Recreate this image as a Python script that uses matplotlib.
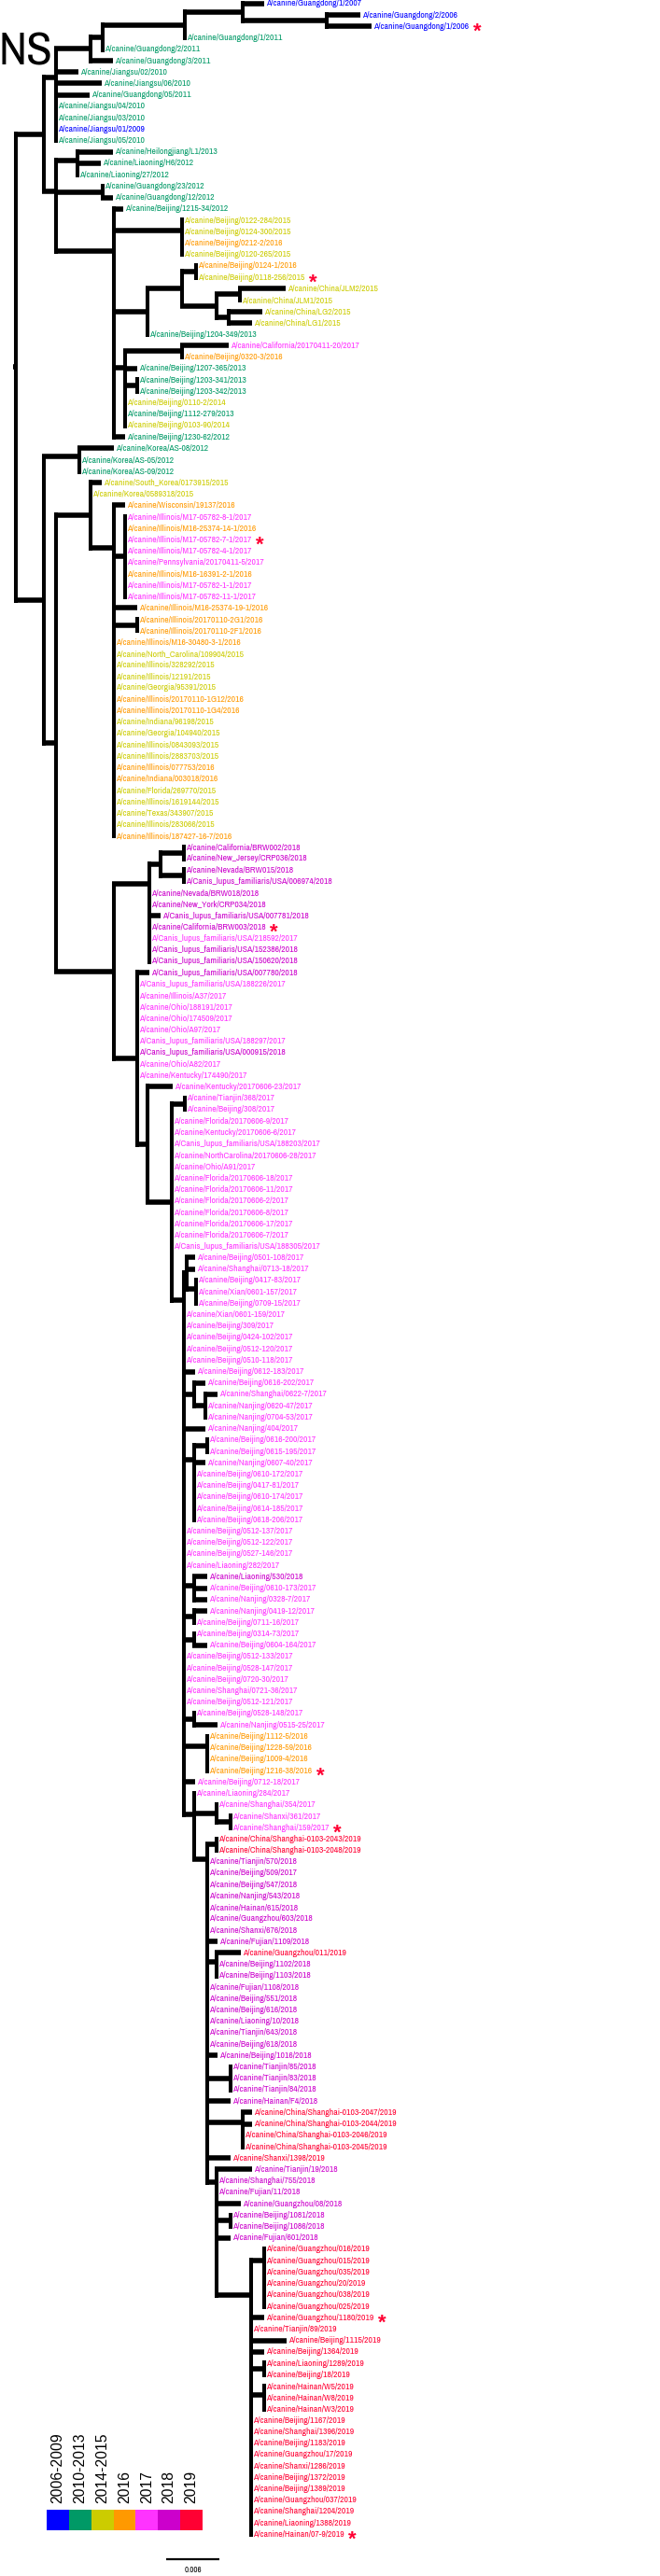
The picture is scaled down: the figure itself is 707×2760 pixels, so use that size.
import matplotlib
matplotlib.use("Agg")
import matplotlib.pyplot as plt
from matplotlib.collections import LineCollection

# ---------------------------------------------------------------- data
STRAINS = [
    "A/canine/Guangdong/1/2007", "A/canine/Guangdong/2/2006", "A/canine/Guangdong/1/2006",
    "A/canine/Guangdong/1/2011", "A/canine/Guangdong/2/2011", "A/canine/Guangdong/3/2011",
    "A/canine/Jiangsu/02/2010", "A/canine/Jiangsu/06/2010", "A/canine/Guangdong/05/2011",
    "A/canine/Jiangsu/04/2010", "A/canine/Jiangsu/03/2010", "A/canine/Jiangsu/01/2009",
    "A/canine/Jiangsu/05/2010", "A/canine/Heilongjiang/L1/2013", "A/canine/Liaoning/H6/2012",
    "A/canine/Liaoning/27/2012", "A/canine/Guangdong/23/2012", "A/canine/Guangdong/12/2012",
    "A/canine/Beijing/1215-34/2012", "A/canine/Beijing/0122-284/2015", "A/canine/Beijing/0124-300/2015",
    "A/canine/Beijing/0212-2/2016", "A/canine/Beijing/0120-265/2015", "A/canine/Beijing/0124-1/2016",
    "A/canine/Beijing/0118-256/2015", "A/canine/China/JLM2/2015", "A/canine/China/JLM1/2015",
    "A/canine/China/LG2/2015", "A/canine/China/LG1/2015", "A/canine/Beijing/1204-349/2013",
    "A/canine/California/20170411-20/2017", "A/canine/Beijing/0320-3/2016", "A/canine/Beijing/1207-365/2013",
    "A/canine/Beijing/1203-341/2013", "A/canine/Beijing/1203-342/2013", "A/canine/Beijing/0110-2/2014",
    "A/canine/Beijing/1112-279/2013", "A/canine/Beijing/0103-90/2014", "A/canine/Beijing/1230-62/2012",
    "A/canine/Korea/AS-08/2012", "A/canine/Korea/AS-05/2012", "A/canine/Korea/AS-09/2012",
    "A/canine/South_Korea/0173915/2015", "A/canine/Korea/0589318/2015", "A/canine/Wisconsin/19137/2016",
    "A/canine/Illinois/M17-05782-8-1/2017", "A/canine/Illinois/M16-25374-14-1/2016",
    "A/canine/Illinois/M17-05782-7-1/2017", "A/canine/Illinois/M17-05782-4-1/2017",
    "A/canine/Pennsylvania/20170411-5/2017", "A/canine/Illinois/M16-16391-2-1/2016",
    "A/canine/Illinois/M17-05782-1-1/2017", "A/canine/Illinois/M17-05782-11-1/2017",
    "A/canine/Illinois/M16-25374-19-1/2016", "A/canine/Illinois/20170110-2G1/2016",
    "A/canine/Illinois/20170110-2F1/2016", "A/canine/Illinois/M16-30480-3-1/2016",
    "A/canine/North_Carolina/109904/2015", "A/canine/Illinois/328292/2015", "A/canine/Illinois/12191/2015",
    "A/canine/Georgia/95391/2015", "A/canine/Illinois/20170110-1G12/2016", "A/canine/Illinois/20170110-1G4/2016",
    "A/canine/Indiana/96198/2015", "A/canine/Georgia/104940/2015", "A/canine/Illinois/0843093/2015",
    "A/canine/Illinois/2883703/2015", "A/canine/Illinois/077753/2016", "A/canine/Indiana/003018/2016",
    "A/canine/Florida/269770/2015", "A/canine/Illinois/1619144/2015", "A/canine/Texas/343907/2015",
    "A/canine/Illinois/283066/2015", "A/canine/Illinois/187427-16-7/2016", "A/canine/California/BRW002/2018",
    "A/canine/New_Jersey/CRP036/2018", "A/canine/Nevada/BRW015/2018", "A/Canis_lupus_familiaris/USA/006974/2018",
    "A/canine/Nevada/BRW018/2018", "A/canine/New_York/CRP034/2018", "A/Canis_lupus_familiaris/USA/007781/2018",
    "A/canine/California/BRW003/2018", "A/Canis_lupus_familiaris/USA/218592/2017",
    "A/Canis_lupus_familiaris/USA/152386/2018", "A/Canis_lupus_familiaris/USA/150620/2018",
    "A/Canis_lupus_familiaris/USA/007780/2018", "A/Canis_lupus_familiaris/USA/188226/2017",
    "A/canine/Illinois/A37/2017", "A/canine/Ohio/188191/2017", "A/canine/Ohio/174509/2017",
    "A/canine/Ohio/A97/2017", "A/Canis_lupus_familiaris/USA/188297/2017",
    "A/Canis_lupus_familiaris/USA/000915/2018", "A/canine/Ohio/A82/2017", "A/canine/Kentucky/174490/2017",
    "A/canine/Kentucky/20170606-23/2017", "A/canine/Tianjin/368/2017", "A/canine/Beijing/308/2017",
    "A/canine/Florida/20170606-9/2017", "A/canine/Kentucky/20170606-6/2017",
    "A/Canis_lupus_familiaris/USA/188203/2017", "A/canine/NorthCarolina/20170606-28/2017",
    "A/canine/Ohio/A91/2017", "A/canine/Florida/20170606-18/2017", "A/canine/Florida/20170606-11/2017",
    "A/canine/Florida/20170606-2/2017", "A/canine/Florida/20170606-8/2017", "A/canine/Florida/20170606-17/2017",
    "A/canine/Florida/20170606-7/2017", "A/Canis_lupus_familiaris/USA/188305/2017",
    "A/canine/Beijing/0501-108/2017", "A/canine/Shanghai/0713-18/2017", "A/canine/Beijing/0417-83/2017",
    "A/canine/Xian/0601-157/2017", "A/canine/Beijing/0709-15/2017", "A/canine/Xian/0601-159/2017",
    "A/canine/Beijing/309/2017", "A/canine/Beijing/0424-102/2017", "A/canine/Beijing/0512-120/2017",
    "A/canine/Beijing/0510-118/2017", "A/canine/Beijing/0612-183/2017", "A/canine/Beijing/0616-202/2017",
    "A/canine/Shanghai/0622-7/2017", "A/canine/Nanjing/0620-47/2017", "A/canine/Nanjing/0704-53/2017",
    "A/canine/Nanjing/404/2017", "A/canine/Beijing/0616-200/2017", "A/canine/Beijing/0615-195/2017",
    "A/canine/Nanjing/0607-40/2017", "A/canine/Beijing/0610-172/2017", "A/canine/Beijing/0417-81/2017",
    "A/canine/Beijing/0610-174/2017", "A/canine/Beijing/0614-185/2017", "A/canine/Beijing/0618-206/2017",
    "A/canine/Beijing/0512-137/2017", "A/canine/Beijing/0512-122/2017", "A/canine/Beijing/0527-146/2017",
    "A/canine/Liaoning/282/2017", "A/canine/Liaoning/530/2018", "A/canine/Beijing/0610-173/2017",
    "A/canine/Nanjing/0328-7/2017", "A/canine/Nanjing/0419-12/2017", "A/canine/Beijing/0711-16/2017",
    "A/canine/Beijing/0314-73/2017", "A/canine/Beijing/0604-164/2017", "A/canine/Beijing/0512-133/2017",
    "A/canine/Beijing/0528-147/2017", "A/canine/Beijing/0720-30/2017", "A/canine/Shanghai/0721-36/2017",
    "A/canine/Beijing/0512-121/2017", "A/canine/Beijing/0528-148/2017", "A/canine/Nanjing/0515-25/2017",
    "A/canine/Beijing/1112-5/2016", "A/canine/Beijing/1228-59/2016", "A/canine/Beijing/1009-4/2016",
    "A/canine/Beijing/1216-38/2016", "A/canine/Beijing/0712-18/2017", "A/canine/Liaoning/284/2017",
    "A/canine/Shanghai/354/2017", "A/canine/Shanxi/361/2017", "A/canine/Shanghai/159/2017",
    "A/canine/China/Shanghai-0103-2043/2019", "A/canine/China/Shanghai-0103-2048/2019",
    "A/canine/Tianjin/570/2018", "A/canine/Beijing/509/2017", "A/canine/Beijing/547/2018",
    "A/canine/Nanjing/543/2018", "A/canine/Hainan/615/2018", "A/canine/Guangzhou/603/2018",
    "A/canine/Shanxi/676/2018", "A/canine/Fujian/1109/2018", "A/canine/Guangzhou/011/2019",
    "A/canine/Beijing/1102/2018", "A/canine/Beijing/1103/2018", "A/canine/Fujian/1108/2018",
    "A/canine/Beijing/551/2018", "A/canine/Beijing/616/2018", "A/canine/Liaoning/10/2018",
    "A/canine/Tianjin/643/2018", "A/canine/Beijing/618/2018", "A/canine/Beijing/1016/2018",
    "A/canine/Tianjin/85/2018", "A/canine/Tianjin/83/2018", "A/canine/Tianjin/84/2018",
    "A/canine/Hainan/F4/2018", "A/canine/China/Shanghai-0103-2047/2019",
    "A/canine/China/Shanghai-0103-2044/2019", "A/canine/China/Shanghai-0103-2046/2019",
    "A/canine/China/Shanghai-0103-2045/2019", "A/canine/Shanxi/1398/2019", "A/canine/Tianjin/19/2018",
    "A/canine/Shanghai/755/2018", "A/canine/Fujian/11/2018", "A/canine/Guangzhou/08/2018",
    "A/canine/Beijing/1081/2018", "A/canine/Beijing/1086/2018", "A/canine/Fujian/601/2018",
    "A/canine/Guangzhou/016/2019", "A/canine/Guangzhou/015/2019", "A/canine/Guangzhou/035/2019",
    "A/canine/Guangzhou/20/2019", "A/canine/Guangzhou/038/2019", "A/canine/Guangzhou/025/2019",
    "A/canine/Guangzhou/1180/2019", "A/canine/Tianjin/89/2019", "A/canine/Beijing/1115/2019",
    "A/canine/Beijing/1364/2019", "A/canine/Liaoning/1289/2019", "A/canine/Beijing/18/2019",
    "A/canine/Hainan/W5/2019", "A/canine/Hainan/W8/2019", "A/canine/Hainan/W3/2019",
    "A/canine/Beijing/1167/2019", "A/canine/Shanghai/1396/2019", "A/canine/Beijing/1183/2019",
    "A/canine/Guangzhou/17/2019", "A/canine/Shanxi/1286/2019", "A/canine/Beijing/1372/2019",
    "A/canine/Beijing/1389/2019", "A/canine/Guangzhou/037/2019", "A/canine/Shanghai/1204/2019",
    "A/canine/Liaoning/1388/2019", "A/canine/Hainan/07-9/2019",
]

# strains marked with a red asterisk
MARKED = [
    "A/canine/Guangdong/1/2006", "A/canine/Beijing/0118-256/2015",
    "A/canine/Illinois/M17-05782-7-1/2017", "A/canine/California/BRW003/2018",
    "A/canine/Beijing/1216-38/2016", "A/canine/Shanghai/159/2017",
    "A/canine/Guangzhou/1180/2019", "A/canine/Hainan/07-9/2019",
]

# colour group where it differs from the year in the strain name
GROUP_OVERRIDE = {"A/canine/Beijing/509/2017": "2018"}

YEAR_GROUPS = ["2006-2009", "2010-2013", "2014-2015", "2016", "2017", "2018", "2019"]
GROUP_COLORS = ["#0000FF", "#009966", "#CCCC00", "#FF9900", "#FF33FF", "#CC00CC", "#FF0033"]

# tree topology, leaves are indices into STRAINS; branch lengths in scale-bar units
# (SCALE_BAR_UNITS of them = SCALE_BAR_VALUE substitutions/site); missing length = 0
SCALE_BAR_VALUE = 0.006
SCALE_BAR_UNITS = 57

CLADE_2006_2011 = "((((0:23,(1:36,2:48):90):62,3):88,4):13,5:24)"
CLADE_JIANGSU = f"({CLADE_2006_2011}:37,(6:24,7:49,8:36,9,10,11,12))"
CLADE_BEIJING = ("(18:10,(19,20,21,22)P1:73,(((23,24):15,((25:49,26):25,(27:36,28:25):13):37):37,29):36,"
                 "((30:50,31):61,32:13,(33,34):13,35,36,37)P3:12,38:12)E")
CLADE_NORTH = f"((13:38,14:25,15)H:23,(16,17:11):50,{CLADE_BEIJING}:62)D"
CLADE_KOREA = "(39:37,40,41)KO"
CLADE_US_2015 = ("(44:12,(45,46,47,48,49,50,51,52):12,53:25,(54,55):25,56,57,58,59,60,61,62,63,64,"
                 "65,66,67,68,69,70,71,72,73)US")
CLADE_US_2018 = "(((74,75):25,(76,77):25):12,78,79,80:12,81,82,83,84)CA"
CLADE_2019_S = ("((197,198,199,200,201,202)S1:14,203:14,204,205:38,206:14,(207,208):14,(209,210,211)S3:14,"
                "212,213,214,215,216,217,218,219,220,221,222)S")
CLADE_R = f"(190:38,191,192,193:26,(194,195):15,196:15,{CLADE_2019_S}:37)R"
CLADE_Q = ("((161,162):10,163,164,165,166,167,168,169,170:11,(171:26,172,173)Z1:10,174,175,176,177,178,179,"
           f"180:11,(181,182,183):25,184:25,(185:10,186:10,187,188)Z3:38,189:25,{CLADE_R}:10)Q")
CLADE_CHINA_2017 = ("((110:9,111:9,(112,113,114)N112:10):3,115,116,117,118,119,120:12,(121:12,(122:13,123,124):12):11,"
                    "125:23,((126,127):14,128:12,129,130,131,132,133)X3:11,134,135,136,137,"
                    "(138:14,139:14,140:14)X4:11,(141:14,142):11,(143,144:14):11,145,146,147,148,149,"
                    f"(150,151:25):11,(152,153,154,155)X8:25,156:12,(157,(158,(159,160):15):24,{CLADE_Q}:14)W:11)V")
CLADE_USA_2017 = ("(85:13,86,87,88,89,90,91,92,93,94,(95:27,((96,97):14,98,99,100,101,102,103,104,105,106,107,"
                  f"108,109,{CLADE_CHINA_2017}:13):26):11)")
CLADE_B = f"({CLADE_KOREA}:38,((42:12,43,{CLADE_US_2015}:25):37,({CLADE_US_2018}:38,{CLADE_USA_2017}:25):62):13)"
TREE = f"(({CLADE_JIANGSU}:13,{CLADE_NORTH}:13):30,{CLADE_B}:30);"

# nodes whose polytomy is resolved as a ladder of zero-length branches in the tree file
LADDER_NODES = ["D", "H", "E", "P1", "P3", "KO", "US", "CA", "N112", "V", "X3", "X4",
                "X8", "W", "Q", "Z1", "Z3", "R", "S", "S1", "S3"]


# ---------------------------------------------------------------- tree helpers
def parse_newick(s):
    s = s.replace(" ", "")
    pos = 0

    def node():
        nonlocal pos
        n = {"children": [], "label": "", "length": 0.0}
        if s[pos] == "(":
            pos += 1
            while True:
                n["children"].append(node())
                if s[pos] == ",":
                    pos += 1
                    continue
                pos += 1  # ')'
                break
        start = pos
        while s[pos] not in ",():;":
            pos += 1
        n["label"] = s[start:pos]
        if s[pos] == ":":
            pos += 1
            start = pos
            while s[pos] not in ",();":
                pos += 1
            n["length"] = float(s[start:pos])
        return n

    return node()


def layout(n, x0, leaves, internals):
    n["x"] = x0 + n["length"]
    if not n["children"]:
        n["y"] = len(leaves)
        leaves.append(n)
        return
    for c in n["children"]:
        layout(c, n["x"], leaves, internals)
    ys = [c["y"] for c in n["children"]]
    if n["label"] in LADDER_NODES:
        y = ys[-1]
        for v in reversed(ys[:-1]):
            y = (v + y) / 2
    else:
        y = (ys[0] + ys[-1]) / 2
    n["y"] = y
    internals.append(n)


def group_index(name):
    year = int(GROUP_OVERRIDE.get(name, name.rsplit("/", 1)[1]))
    if year <= 2009:
        return 0
    if year <= 2013:
        return 1
    if year <= 2015:
        return 2
    return year - 2013


root = parse_newick(TREE)
leaves, internals = [], []
layout(root, 0.0, leaves, internals)
assert [int(l["label"]) for l in leaves] == list(range(len(STRAINS)))

# ---------------------------------------------------------------- figure
W, H, DPI = 707, 2760, 100
ROW = 12.213        # pixels per leaf row
TOP = 4.0           # pixel row of the first leaf
ROOT_X = 17.0       # pixel column of the root

NARROW = ["Archivo Narrow", "Liberation Sans", "DejaVu Sans"]
REGULAR = ["Liberation Sans", "DejaVu Sans"]

fig = plt.figure(figsize=(W / DPI, H / DPI), dpi=DPI)
fig.patch.set_facecolor("white")
renderer = fig.canvas.get_renderer()


def fit_size(text, family, width_px, base=10.0):
    t = fig.text(0, 0, text, fontsize=base, family=family)
    w = t.get_window_extent(renderer).width
    t.remove()
    return base * width_px / w


LABEL_SIZE = fit_size("A/canine/China/Shanghai-0103-2043/2019", NARROW, 152)
NS_SIZE = fit_size("NS", NARROW, 58)
BAR_SIZE = fit_size("0.006", NARROW, 18)

ax = fig.add_axes([0, 0, 1, 1])
ax.set_xlim(-ROOT_X, W - ROOT_X)
ax.set_ylim((H - TOP) / ROW, -TOP / ROW)
ax.axis("off")

H_LW = 4.0    # pt, horizontal branches
V_LW = 2.9    # pt, vertical connectors
v_half_x = V_LW * DPI / 72 / 2
h_half_y = H_LW * DPI / 72 / 2 / ROW

hsegs, vsegs = [], []
for n in internals:
    kids = n["children"]
    vsegs.append([(n["x"], kids[0]["y"] - h_half_y), (n["x"], kids[-1]["y"] + h_half_y)])
    for c in kids:
        if c["x"] > n["x"]:
            hsegs.append([(n["x"] - v_half_x, c["y"]), (c["x"], c["y"])])
hsegs.append([(root["x"] - 3, root["y"]), (root["x"], root["y"])])

ax.add_collection(LineCollection(hsegs, colors="black", linewidths=H_LW, capstyle="butt"))
ax.add_collection(LineCollection(vsegs, colors="black", linewidths=V_LW, capstyle="butt"))

for leaf in leaves:
    name = STRAINS[int(leaf["label"])]
    t = ax.text(leaf["x"] + 2.5, leaf["y"], name, ha="left", va="center",
                fontsize=LABEL_SIZE, family=NARROW,
                color=GROUP_COLORS[group_index(name)])
    if name in MARKED:
        ax.annotate("*", xy=(1, 0.5), xycoords=t, xytext=(3, -4.5), textcoords="offset points",
                    ha="left", va="center", fontsize=16, fontweight="bold",
                    family=REGULAR, color="#FF0033")

# segment name
fig.text(-2 / W, 1 - 70 / H, "NS", ha="left", va="baseline", fontsize=NS_SIZE,
         family=NARROW, color="black")

# scale bar
bar_x0 = 178 - ROOT_X
bar_y = (2742 - TOP) / ROW
ax.plot([bar_x0, bar_x0 + SCALE_BAR_UNITS], [bar_y, bar_y], color="black", lw=1.6,
        solid_capstyle="butt")
ax.text(bar_x0 + SCALE_BAR_UNITS / 2, (2753 - TOP) / ROW, f"{SCALE_BAR_VALUE:g}",
        ha="center", va="center", fontsize=BAR_SIZE, family=NARROW, color="black")

# year colour key
lax = fig.add_axes([50 / W, 1 - 2711 / H, 167 / W, 22 / H])
lax.bar(range(len(YEAR_GROUPS)), 1, width=1, align="edge", color=GROUP_COLORS, linewidth=0)
lax.set_xlim(0, len(YEAR_GROUPS))
lax.set_ylim(0, 1)
lax.axis("off")
for i, lab in enumerate(YEAR_GROUPS):
    lax.text(i + 0.5, 1 + 7 / 22, lab, rotation=90, ha="center", va="bottom",
             fontsize=11.3, family=REGULAR, color="black",
             transform=lax.get_xaxis_transform())

fig.savefig("out.png", dpi=DPI, facecolor="white")
